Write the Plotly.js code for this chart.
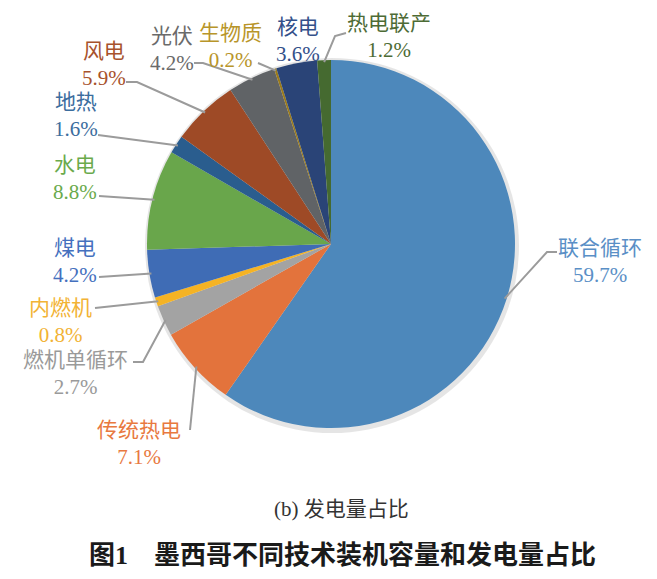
<!DOCTYPE html>
<html>
<head>
<meta charset="utf-8">
<script src="https://cdn.plot.ly/plotly-3.0.1.min.js"></script>
<style>html,body{margin:0;padding:0;background:#fff;}#chart{width:657px;height:579px;}</style>
</head>
<body>
<div id="chart"></div>
<script>
// ---- data ----
const categories = ["联合循环","传统热电","燃机单循环","内燃机","煤电","水电","地热","风电","光伏","生物质","核电","热电联产"];
const shares = [59.7, 7.1, 2.7, 0.8, 4.2, 8.8, 1.6, 5.9, 4.2, 0.2, 3.6, 1.2];
const subtitle = "(b) 发电量占比";
const figTitle = "图1　墨西哥不同技术装机容量和发电量占比";

// ---- styles ----
const sliceColors = ["#4d88bb","#e3733c","#a3a3a3","#f5b324","#3f6cb5","#69a64b","#2a5d8e","#9e4a26","#606366","#9a7a1a","#2a4477","#456a30"];
const textColors  = ["#5a8fc6","#e8793f","#9a9a9a","#f2b335","#4470be","#6aaa4c","#3c6d9e","#a7522c","#6a6a6a","#b8952a","#34508a","#4d6b35"];

// ---- layout geometry (pixels) ----
const W = 657, H = 579;
const cx = 331, cy = 244, R = 184;
// label block centres and leader elbows (pixels), one per category
const labelPos = [[600,261],[139,443],[75,373],[60,321],[75,261],[75,178],[76,116],[104,64],[172,49],[230,46],[298,41],[389,36]];
const leaderElbows = [
  [[557,252],[547,252]],
  [[190,430]],
  [[133,362],[143,362]],
  [[95,308]],
  [[99,277]],
  [[99,196]],
  [[98,135]],
  [[126,82],[137,82]],
  [[194,63],[203,63]],
  [[258,63]],
  null,
  [[346,33],[335,36]]
];

const px = x => x / W;
const py = y => 1 - y / H;

const total = shares.reduce((a,b)=>a+b,0);
const annotations = [];
const shapes = [];

// soft shadow ring
shapes.push({type:'circle', layer:'below', xref:'paper', yref:'paper',
  x0:px(cx-R-2), x1:px(cx+R+4), y0:py(cy+R+5), y1:py(cy-R-2),
  fillcolor:'rgba(0,0,0,0.10)', line:{width:0}});

let cum = 0;
categories.forEach((name,i)=>{
  const v = shares[i];
  const theta = 2*Math.PI*(cum + v/2)/total;
  cum += v;
  const ex = cx + (R-2)*Math.sin(theta);
  const ey = cy - (R-2)*Math.cos(theta);
  annotations.push({
    xref:'paper', yref:'paper', x:px(labelPos[i][0]), y:py(labelPos[i][1]),
    xanchor:'center', yanchor:'middle', showarrow:false,
    text: name + '<br>' + v.toFixed(1) + '%',
    font:{family:'"Liberation Serif","Noto Sans CJK SC",serif', size:21, color:textColors[i]}
  });
  const el = leaderElbows[i];
  if (el) {
    const pts = el.concat([[ex,ey]]);
    let path = 'M ' + px(pts[0][0]) + ' ' + py(pts[0][1]);
    for (let k=1;k<pts.length;k++) path += ' L ' + px(pts[k][0]) + ' ' + py(pts[k][1]);
    shapes.push({type:'path', xref:'paper', yref:'paper', path:path, line:{color:'#9b9b9b', width:2}});
  }
});

annotations.push({xref:'paper', yref:'paper', x:px(341), y:py(509), xanchor:'center', yanchor:'middle', showarrow:false,
  text:subtitle, font:{family:'"Liberation Serif","Noto Sans CJK SC",serif', size:21, color:'#333333'}});
annotations.push({xref:'paper', yref:'paper', x:px(342), y:py(555), xanchor:'center', yanchor:'middle', showarrow:false,
  text:'<b>'+figTitle+'</b>', font:{family:'"Liberation Serif","Noto Sans CJK SC",serif', size:26, color:'#1a1a1a'}});

const trace = {
  type:'pie', labels:categories, values:shares, sort:false, direction:'clockwise', rotation:0,
  marker:{colors:sliceColors, line:{width:0}},
  textinfo:'none', hoverinfo:'label+percent', showlegend:false,
  domain:{x:[px(cx-R), px(cx+R)], y:[py(cy+R), py(cy-R)]}
};

Plotly.newPlot('chart',[trace],{
  width:W, height:H, margin:{l:0,r:0,t:0,b:0},
  paper_bgcolor:'#ffffff', plot_bgcolor:'#ffffff',
  annotations:annotations, shapes:shapes, showlegend:false
},{displayModeBar:false, staticPlot:true});
</script>
</body>
</html>
